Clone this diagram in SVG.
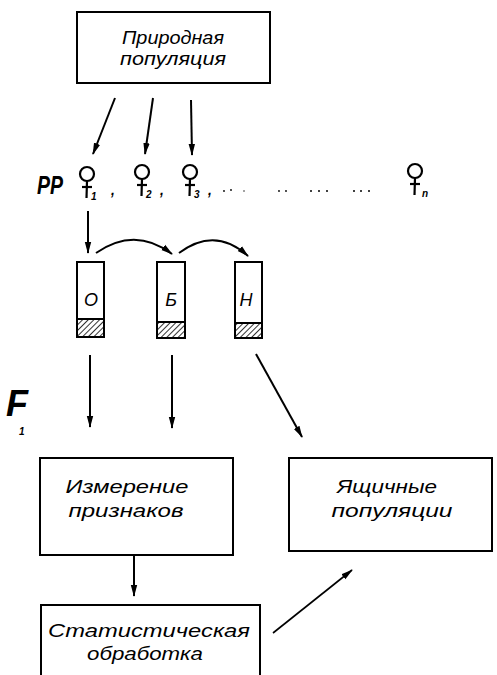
<svg xmlns="http://www.w3.org/2000/svg" width="497" height="675" viewBox="0 0 497 675">
<style>
.box{fill:#fff;stroke:#000;stroke-width:2}
.lbl{font-family:"Liberation Sans",Arial,sans-serif;font-style:italic;font-size:18px;fill:#000;text-anchor:middle}
.big{font-family:"Liberation Sans",Arial,sans-serif;font-style:italic;font-weight:bold;fill:#000}
.sub{font-family:"Liberation Sans",Arial,sans-serif;font-style:italic;font-weight:bold;font-size:10px;fill:#000}
.ln{stroke:#000;stroke-width:2;fill:none}
.sym{stroke:#000;stroke-width:2.2;fill:none}
</style>
<defs>
<marker id="ah" viewBox="0 0 12 8" refX="11" refY="4" markerWidth="12" markerHeight="8" markerUnits="userSpaceOnUse" orient="auto">
<path d="M0,0.8 L12,4 L0,7.2 Z" fill="#000"/>
</marker>
<pattern id="hatch" patternUnits="userSpaceOnUse" width="4" height="4" patternTransform="rotate(45)">
<line x1="0" y1="0" x2="0" y2="4" stroke="#000" stroke-width="1.6"/>
</pattern>
<g id="fem">
<circle cx="0" cy="0" r="7" class="sym"/>
<line x1="0" y1="7" x2="-0.5" y2="24" class="sym"/>
<line x1="-5" y1="13" x2="5" y2="13" class="sym"/>
</g>
</defs>

<g id="nature">
<rect class="box" x="77" y="12" width="193" height="71"/>
<text class="lbl" x="173" y="44" textLength="102" lengthAdjust="spacingAndGlyphs">Природная</text>
<text class="lbl" x="173" y="65" textLength="106" lengthAdjust="spacingAndGlyphs">популяция</text>
</g>

<g id="pp">
<text class="big" x="37" y="194" font-size="25" textLength="26" lengthAdjust="spacingAndGlyphs">PP</text>
<use href="#fem" x="87" y="174"/>
<text class="sub" x="91" y="200">1</text>
<text class="big" x="111" y="195" font-size="14">,</text>
<use href="#fem" x="142" y="172"/>
<text class="sub" x="146" y="198">2</text>
<text class="big" x="160" y="195" font-size="14">,</text>
<use href="#fem" x="190" y="172"/>
<text class="sub" x="194" y="198">3</text>
<text class="big" x="208" y="195" font-size="14">,</text>
<g fill="#000">
<circle cx="224" cy="191" r="0.9"/><circle cx="231" cy="190" r="0.9"/><circle cx="244" cy="191" r="0.7"/>
<circle cx="279" cy="191" r="0.9"/><circle cx="286" cy="191" r="0.9"/>
<circle cx="311" cy="191" r="1"/><circle cx="319" cy="191" r="1"/><circle cx="327" cy="191" r="1"/>
<circle cx="354" cy="191" r="1"/><circle cx="361" cy="191" r="1"/><circle cx="369" cy="191" r="1"/>
</g>
<use href="#fem" x="415" y="171"/>
<text class="sub" x="422" y="197" font-size="11">n</text>
</g>

<g id="tube-O">
<rect x="77" y="262" width="27" height="57" fill="#fff"/>
<rect x="77" y="319" width="27" height="18" fill="url(#hatch)"/>
<rect class="box" x="77" y="262" width="27" height="75" style="fill:none"/>
<line class="ln" x1="77" y1="319" x2="104" y2="319"/>
<text class="lbl" x="91" y="306" font-size="15">О</text>
</g>
<g id="tube-B">
<rect x="157" y="262" width="28" height="60" fill="#fff"/>
<rect x="157" y="322" width="28" height="16" fill="url(#hatch)"/>
<rect class="box" x="157" y="262" width="28" height="76" style="fill:none"/>
<line class="ln" x1="157" y1="322" x2="185" y2="322"/>
<text class="lbl" x="171" y="306" font-size="15">Б</text>
</g>
<g id="tube-H">
<rect x="235" y="262" width="27" height="61" fill="#fff"/>
<rect x="235" y="323" width="27" height="15" fill="url(#hatch)"/>
<rect class="box" x="235" y="262" width="27" height="76" style="fill:none"/>
<line class="ln" x1="235" y1="323" x2="262" y2="323"/>
<text class="lbl" x="246" y="306" font-size="15">Н</text>
</g>

<g id="f1">
<text class="big" x="6" y="416" font-size="36" textLength="22" lengthAdjust="spacingAndGlyphs">F</text>
<text class="sub" x="19" y="435" font-size="11">1</text>
</g>

<g id="measure">
<rect class="box" x="40" y="458" width="193" height="97"/>
<text class="lbl" x="127" y="493" textLength="123" lengthAdjust="spacingAndGlyphs">Измерение</text>
<text class="lbl" x="126" y="517" textLength="115" lengthAdjust="spacingAndGlyphs">признаков</text>
</g>

<g id="boxpop">
<rect class="box" x="289" y="458" width="203" height="93"/>
<text class="lbl" x="387" y="493" textLength="100" lengthAdjust="spacingAndGlyphs">Ящичные</text>
<text class="lbl" x="392" y="517" textLength="121" lengthAdjust="spacingAndGlyphs">популяции</text>
</g>

<g id="stat">
<rect class="box" x="41" y="605" width="219" height="80"/>
<text class="lbl" x="149" y="637" textLength="202" lengthAdjust="spacingAndGlyphs">Статистическая</text>
<text class="lbl" x="145" y="660" textLength="116" lengthAdjust="spacingAndGlyphs">обработка</text>
</g>

<g id="connectors">
<line class="ln" x1="115" y1="98" x2="93" y2="154" marker-end="url(#ah)"/>
<line class="ln" x1="153" y1="98" x2="145" y2="154" marker-end="url(#ah)"/>
<line class="ln" x1="191" y1="100" x2="192" y2="155" marker-end="url(#ah)"/>
<line class="ln" x1="88" y1="211" x2="88" y2="253" marker-end="url(#ah)"/>
<path class="ln" d="M96,253 Q135,226 172,254" marker-end="url(#ah)"/>
<path class="ln" d="M179,253 Q215,226 248,256" marker-end="url(#ah)"/>
<line class="ln" x1="90" y1="355" x2="90" y2="427" marker-end="url(#ah)"/>
<line class="ln" x1="172" y1="355" x2="172" y2="428" marker-end="url(#ah)"/>
<line class="ln" x1="256" y1="354" x2="302" y2="437" marker-end="url(#ah)"/>
<line class="ln" x1="134" y1="556" x2="134" y2="596" marker-end="url(#ah)"/>
<line class="ln" x1="273" y1="633" x2="352" y2="570" marker-end="url(#ah)" style="stroke-width:1.6"/>
</g>
</svg>
